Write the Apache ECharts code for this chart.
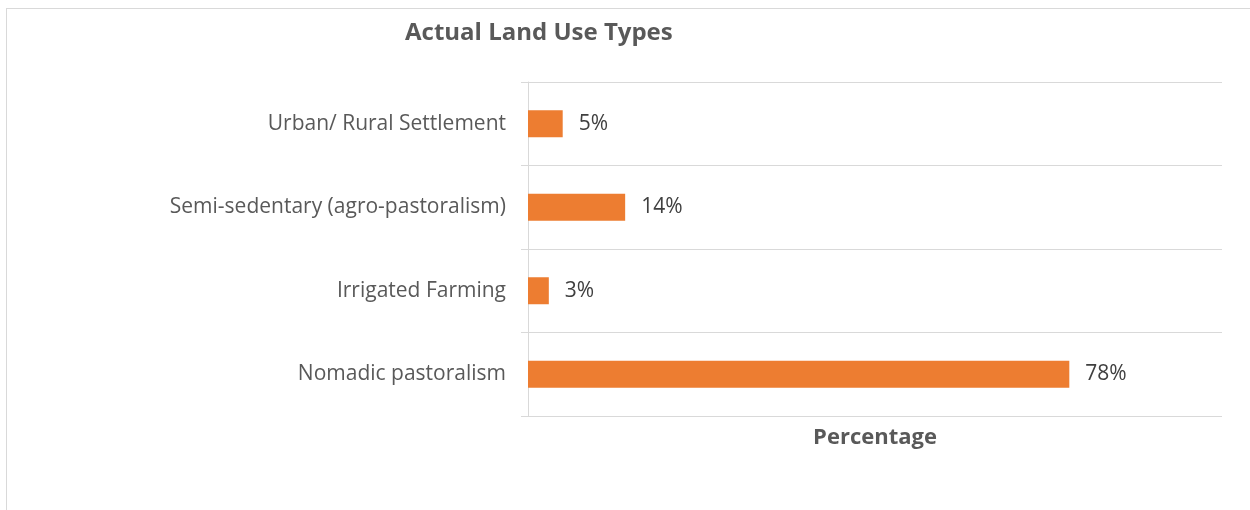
<!DOCTYPE html>
<html>
<head>
<meta charset="utf-8">
<script src="https://cdn.jsdelivr.net/npm/echarts@6/dist/echarts.min.js"></script>
<style>
html,body{margin:0;padding:0;background:#fff;}
#frame{position:absolute;left:6px;top:8px;width:1260px;height:520px;border:1px solid #d9d9d9;box-sizing:border-box;}
#chart{position:absolute;left:0;top:0;width:1250px;height:510px;}
</style>
</head>
<body>
<div id="frame"></div>
<div id="chart"></div>
<script>
const categories = ["Urban/ Rural Settlement", "Semi-sedentary (agro-pastoralism)", "Irrigated Farming", "Nomadic pastoralism"];
const percentages = [5, 14, 3, 78];
const titleText = "Actual Land Use Types";
const axisName = "Percentage";

const chart = echarts.init(document.getElementById('chart'));
const font = '"Open Sans", Lato, sans-serif';
chart.setOption({
  animation: false,
  backgroundColor: 'transparent',
  title: {
    text: titleText,
    left: 400, top: 16,
    textStyle: {fontFamily: font, fontSize: 24, fontWeight: 'bold', color: '#595959'}
  },
  grid: {left: 528, top: 82, right: 28, bottom: 94, containLabel: false},
  xAxis: {
    type: 'value', min: 0, max: 100,
    axisLabel: {show: false}, axisTick: {show: false}, axisLine: {show: false}, splitLine: {show: false},
    name: axisName, nameLocation: 'middle', nameGap: 11,
    nameTextStyle: {fontFamily: font, fontSize: 22, fontWeight: 'bold', color: '#595959', verticalAlign: 'top'}
  },
  yAxis: {
    type: 'category', data: categories, inverse: true,
    axisLine: {show: true, lineStyle: {color: '#d9d9d9', width: 1}},
    axisTick: {show: true, length: 7, lineStyle: {color: '#d9d9d9'}},
    splitLine: {show: true, lineStyle: {color: '#d9d9d9', width: 1}},
    axisLabel: {margin: 22, fontFamily: font, fontSize: 21, color: '#595959'}
  },
  series: [{
    type: 'bar', data: percentages, barWidth: 27,
    itemStyle: {color: '#ED7D31'},
    label: {show: true, position: 'right', distance: 16, formatter: '{c}%', fontFamily: font, fontSize: 21, color: '#404040'}
  }]
});
</script>
</body>
</html>
